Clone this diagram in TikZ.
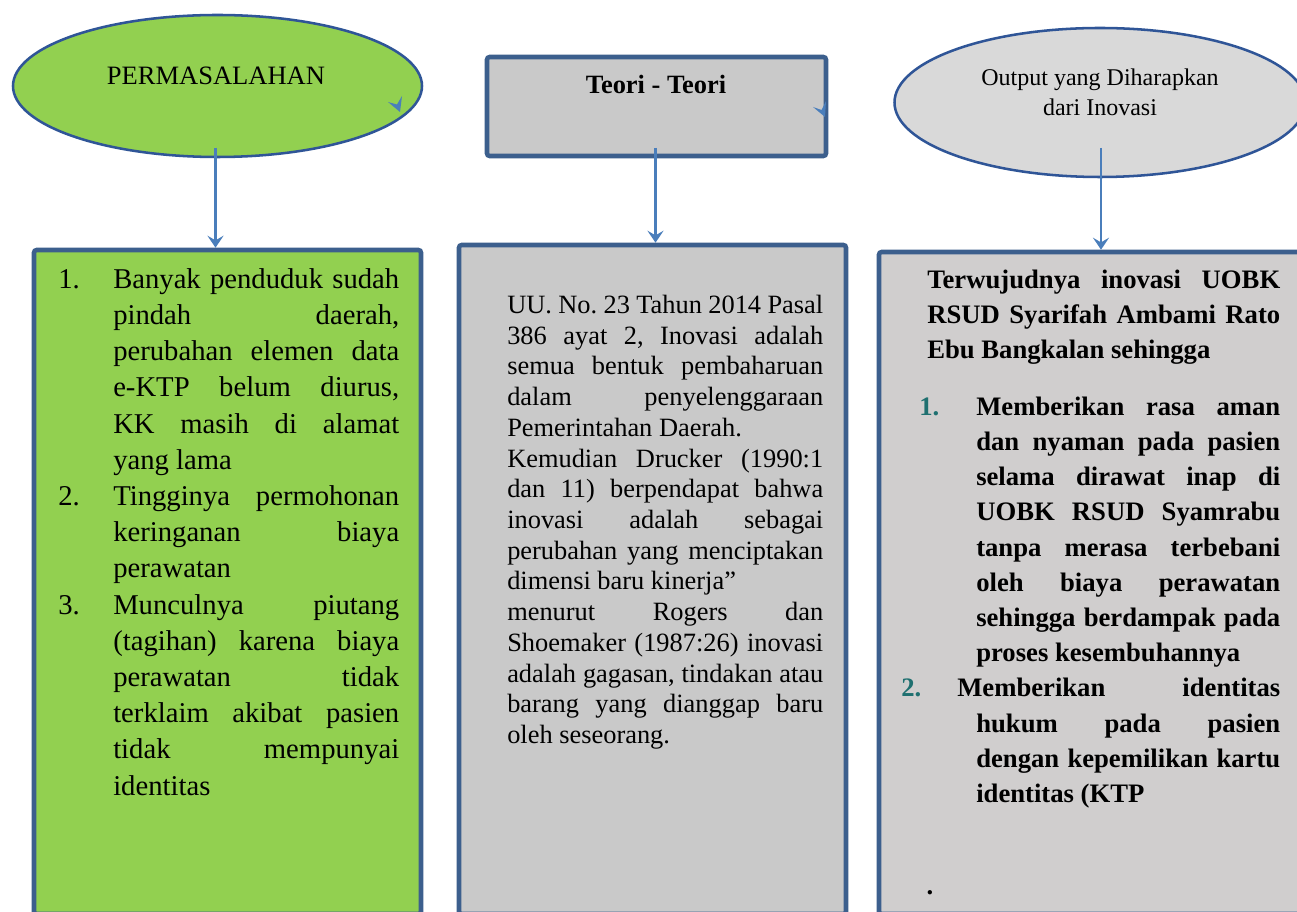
\documentclass[tikz,border=0pt]{standalone}
\usepackage{fontspec}
\setmainfont{Liberation Serif}
\usetikzlibrary{arrows.meta,shapes.geometric}
\definecolor{grn}{HTML}{92D050}
\definecolor{bord}{HTML}{3C5F8D}
\definecolor{ellb}{HTML}{2F5597}
\definecolor{arr}{HTML}{4A7EBB}
\definecolor{gmid}{HTML}{C9C9C9}
\definecolor{grt}{HTML}{D0CECE}
\definecolor{gell}{HTML}{D9D9D9}
\definecolor{tealn}{HTML}{1F7070}
\newlength{\JW}
\newcommand{\J}[1]{\makebox[\JW][s]{#1}}
\newcommand{\NL}[2]{\llap{\makebox[#1][l]{#2}}}
\frenchspacing
\tikzset{
  box/.style={draw=bord, line width=3.4pt, rounded corners=2pt, inner sep=0pt, rectangle},
  ell/.style={ellipse, draw=ellb, line width=1.9pt, inner sep=0pt},
  conn/.style={draw=arr, line width=1.7pt, -{Stealth[length=9pt,width=12pt,inset=3.5pt]}},
  tip/.style={fill=arr, draw=none},
  ltxt/.style={anchor=north west, inner sep=0pt, align=left,
    font={\fontsize{21.5pt}{27.15pt}\selectfont\frenchspacing\setlength{\JW}{214.5pt}}},
  mtxt/.style={anchor=north west, inner sep=0pt, align=left,
    font={\fontsize{19.8pt}{23.03pt}\selectfont\frenchspacing\setlength{\JW}{237pt}}},
  rtxt/.style={anchor=north west, inner sep=0pt, align=left,
    font={\fontsize{20pt}{26.4pt}\selectfont\bfseries\frenchspacing\setlength{\JW}{#1}}},
}
\begin{document}
\begin{tikzpicture}[x=0.75pt,y=-0.75pt]
\useasboundingbox (0,0) rectangle (1297,912);
\fill[white] (0,0) rectangle (1297,912);
% top shapes
\node[ell, fill=grn, minimum width=306.75pt, minimum height=106.5pt] (e1) at (217.5,86) {};
\node[box, fill=gmid, minimum width=254.25pt, minimum height=74.25pt] (t2) at (656.5,106.5) {};
\node[ell, fill=gell, minimum width=308.25pt, minimum height=111.75pt] (e3) at (1100,102.5) {};
% titles
\node[anchor=base, inner sep=0pt, font=\fontsize{19.9pt}{24pt}\selectfont] (l1) at (216,85) {PERMASALAHAN};
\node[anchor=base, inner sep=0pt, font=\fontsize{19.8pt}{24pt}\selectfont\bfseries] (l2) at (656,94) {Teori - Teori};
\node[anchor=north, inner sep=0pt, align=center, font=\fontsize{18pt}{22.5pt}\selectfont] (l3) at (1100,64) {\strut Output yang Diharapkan\\\strut dari Inovasi};
% stray arrow tips
\fill[tip] (400,112) -- (388,102) -- (397,104.5) -- (402,96) -- cycle;
\fill[tip] (825,117) -- (813,107) -- (821.5,110) -- (826,101) -- cycle;
% lower boxes
\node[box, fill=grn, minimum width=290.25pt, minimum height=498pt] (b1) at (227.5,582) {};
\node[box, fill=gmid, minimum width=290.25pt, minimum height=501.75pt] (b2) at (652.5,579.5) {};
\node[box, fill=grt, minimum width=330.75pt, minimum height=496.5pt] (b3) at (1099.5,583) {};
% connectors
\coordinate (s1) at (215.5,148);
\coordinate (s2) at (655.5,148);
\coordinate (s3) at (1101,148);
\draw[conn] (s1) -- (s1 |- b1.north);
\draw[conn] (s2) -- (s2 |- b2.north);
\draw[conn] (s3) -- (s3 |- b3.north);
% left text
\node[ltxt] (x1) at (113,262.7) {\strut\NL{41.25pt}{1.}\J{Banyak penduduk sudah}\\
\J{pindah daerah,}\\
\J{perubahan elemen data}\\
\J{e-KTP belum diurus,}\\
\J{KK masih di alamat}\\
yang lama\\
\NL{41.25pt}{2.}\J{Tingginya permohonan}\\
\J{keringanan biaya}\\
perawatan\\
\NL{41.25pt}{3.}\J{Munculnya piutang}\\
\J{(tagihan) karena biaya}\\
\J{perawatan tidak}\\
\J{terklaim akibat pasien}\\
\J{tidak mempunyai}\\
identitas};
% middle text
\node[mtxt] (x2) at (507,291.8) {\strut\J{UU. No. 23 Tahun 2014 Pasal}\\
\J{386 ayat 2, Inovasi adalah}\\
\J{semua bentuk pembaharuan}\\
\J{dalam penyelenggaraan}\\
Pemerintahan Daerah.\\
\J{Kemudian Drucker (1990:1}\\
\J{dan 11) berpendapat bahwa}\\
\J{inovasi adalah sebagai}\\
\J{perubahan yang menciptakan}\\
dimensi baru kinerja”\\
\J{menurut Rogers dan}\\
\J{Shoemaker (1987:26) inovasi}\\
\J{adalah gagasan, tindakan atau}\\
\J{barang yang dianggap baru}\\
oleh seseorang.};
% right text
\node[rtxt=264.75pt] (x3) at (927,263.4) {\strut\J{Terwujudnya inovasi UOBK}\\
\J{RSUD Syarifah Ambami Rato}\\
Ebu Bangkalan sehingga};
\node[rtxt=228pt] (x4) at (976,390.4) {\strut\NL{42.75pt}{\textcolor{tealn}{1.}}\J{Memberikan rasa aman}\\
\J{dan nyaman pada pasien}\\
\J{selama dirawat inap di}\\
\J{UOBK RSUD Syamrabu}\\
\J{tanpa merasa terbebani}\\
\J{oleh biaya perawatan}\\
\J{sehingga berdampak pada}\\
proses kesembuhannya\\
\hspace*{-14.25pt}\NL{42pt}{\textcolor{tealn}{2.}}\makebox[\dimexpr\JW+14.25pt\relax][s]{Memberikan identitas}\\
\J{hukum pada pasien}\\
\J{dengan kepemilikan kartu}\\
identitas (KTP};
\node[anchor=base, inner sep=0pt, font=\fontsize{20pt}{24pt}\selectfont\bfseries] (dot) at (930,894) {.};
\end{tikzpicture}
\end{document}
